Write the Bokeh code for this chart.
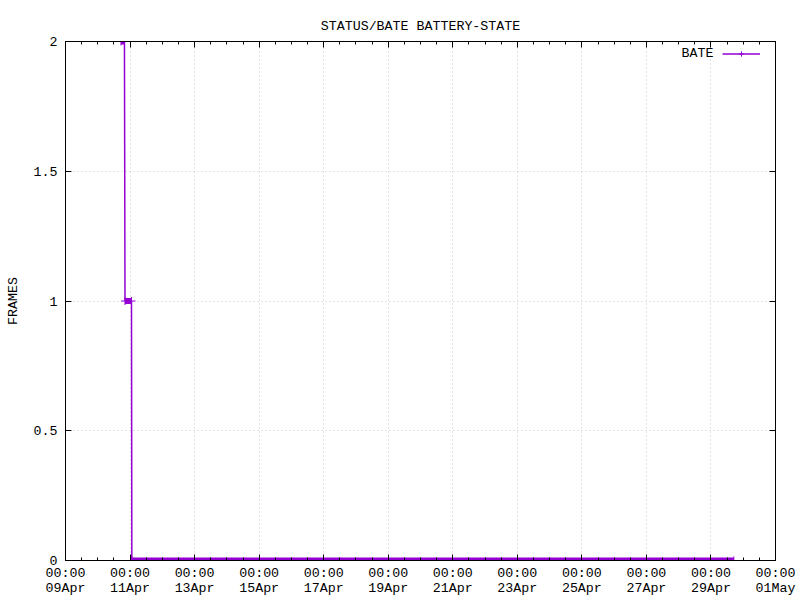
import pandas as pd
from bokeh.plotting import figure
from bokeh.models import (Range1d, FixedTicker, LinearAxis, DatetimeAxis, Legend,
                          LegendItem, Label)
from bokeh.embed import file_html
from bokeh.resources import INLINE

# ---- data ----
sample_times = ["2024-04-10 17:15", "2024-04-10 19:50", "2024-04-10 20:15",
                "2024-04-11 01:05", "2024-04-11 01:20", "2024-04-29 17:00"]
frames = [2, 2, 1, 1, 0, 0]

x_tick_dates = ["2024-04-09", "2024-04-11", "2024-04-13", "2024-04-15", "2024-04-17",
                "2024-04-19", "2024-04-21", "2024-04-23", "2024-04-25", "2024-04-27",
                "2024-04-29", "2024-05-01"]
x_tick_labels = ["00:00\n09Apr", "00:00\n11Apr", "00:00\n13Apr", "00:00\n15Apr",
                 "00:00\n17Apr", "00:00\n19Apr", "00:00\n21Apr", "00:00\n23Apr",
                 "00:00\n25Apr", "00:00\n27Apr", "00:00\n29Apr", "00:00\n01May"]
y_ticks = [0, 0.5, 1, 1.5, 2]
y_tick_labels = ["0", "0.5", "1", "1.5", "2"]

title_text = "STATUS/BATE BATTERY-STATE"
series_name = "BATE"
y_label = "FRAMES"

# ---- styling ----
COLOR = "#9400d3"
FONT = "Liberation Mono"
FS = "13.3px"
TXT = "#000000"

t = pd.to_datetime(sample_times)
t_ms = [ts.value / 1e6 for ts in t]
tick_ms = [pd.Timestamp(d).value / 1e6 for d in x_tick_dates]
half_day = 12 * 3600 * 1000.0
minor_ms = []
for a, b in zip(tick_ms[:-1], tick_ms[1:]):
    v = a
    while v < b:
        minor_ms.append(v)
        v += half_day
minor_ms.append(tick_ms[-1])

p = figure(x_axis_type="datetime", output_backend="svg", toolbar_location=None,
           width=800, height=600,
           min_border_left=65, min_border_right=25, min_border_top=41,
           min_border_bottom=40,
           x_range=Range1d(tick_ms[0], tick_ms[-1]), y_range=Range1d(0, 2))
p.background_fill_color = "white"
p.border_fill_color = "white"
p.outline_line_color = "black"
p.outline_line_width = 1

p.title.text = title_text
p.title.align = "center"
p.title.text_font = FONT
p.title.text_font_size = FS
p.title.text_font_style = "normal"
p.title.text_color = TXT
p.title.standoff = 16

xt = FixedTicker(ticks=tick_ms, minor_ticks=minor_ms)
yt = FixedTicker(ticks=y_ticks, minor_ticks=[])

xax = p.xaxis[0]
xax.ticker = xt
xax.major_label_overrides = {k: v for k, v in zip(tick_ms, x_tick_labels)}
xax.major_label_text_line_height = 1.05
yax = p.yaxis[0]
yax.ticker = yt
yax.major_label_overrides = {k: v for k, v in zip(y_ticks, y_tick_labels)}
yax.axis_label = y_label
yax.axis_label_text_font = FONT
yax.axis_label_text_font_size = FS
yax.axis_label_text_font_style = "normal"
yax.axis_label_text_color = TXT
yax.axis_label_standoff = 10

for ax in (xax, yax):
    ax.major_label_text_font = FONT
    ax.major_label_text_font_size = FS
    ax.major_label_text_color = TXT
    ax.axis_line_color = "black"
    ax.major_tick_in = 6
    ax.major_tick_out = 0
    ax.minor_tick_in = 3
    ax.minor_tick_out = 0
    ax.major_tick_line_color = "black"
    ax.minor_tick_line_color = "black"
xax.major_label_standoff = 5
yax.major_label_standoff = 8
yax.minor_tick_line_color = None

top = DatetimeAxis(ticker=xt, major_tick_in=6, major_tick_out=0, minor_tick_in=3,
                   minor_tick_out=0, major_label_text_font_size="0px",
                   major_label_standoff=0, axis_line_color="black",
                   major_label_text_color=None)
right = LinearAxis(ticker=yt, major_tick_in=6, major_tick_out=0,
                   minor_tick_line_color=None, major_label_text_font_size="0px",
                   major_label_standoff=0, axis_line_color="black",
                   major_label_text_color=None)
p.add_layout(top, "above")
p.add_layout(right, "right")

p.xgrid.ticker = xt
p.ygrid.ticker = yt
for g in (p.xgrid, p.ygrid):
    g.grid_line_color = "#c8c8c8"
    g.grid_line_dash = "1 3"
    g.grid_line_width = 1

# thick bands where consecutive samples hold the same value (dense markers)
x0s, x1s, ys = [], [], []
for i in range(len(frames) - 1):
    if frames[i] == frames[i + 1]:
        x0s.append(t_ms[i]); x1s.append(t_ms[i + 1]); ys.append(frames[i])
p.segment(x0=x0s, y0=ys, x1=x1s, y1=ys, line_color=COLOR, line_width=6,
          line_cap="butt")
line_r = p.line(t_ms, frames, line_color=COLOR, line_width=1.5)
pts_r = p.scatter(t_ms, frames, marker="cross", size=8, line_color=COLOR,
                  line_width=1)

# legend sample (gnuplot puts the key text on the left of the sample)
legend = Legend(items=[LegendItem(label="", renderers=[line_r, pts_r])],
                location=(657, 500), padding=0, margin=0, spacing=0,
                glyph_width=38, glyph_height=13, label_height=13, label_width=0,
                label_standoff=0, label_text_font=FONT, label_text_font_size=FS,
                border_line_color=None, background_fill_color=None)
p.add_layout(legend, "center")
p.add_layout(Label(x=648, y=507, x_units="screen", y_units="screen",
                   text=series_name, text_align="right", text_baseline="middle",
                   text_font=FONT, text_font_size=FS, text_color=TXT))

open("out.html", "w").write(file_html(p, INLINE))
